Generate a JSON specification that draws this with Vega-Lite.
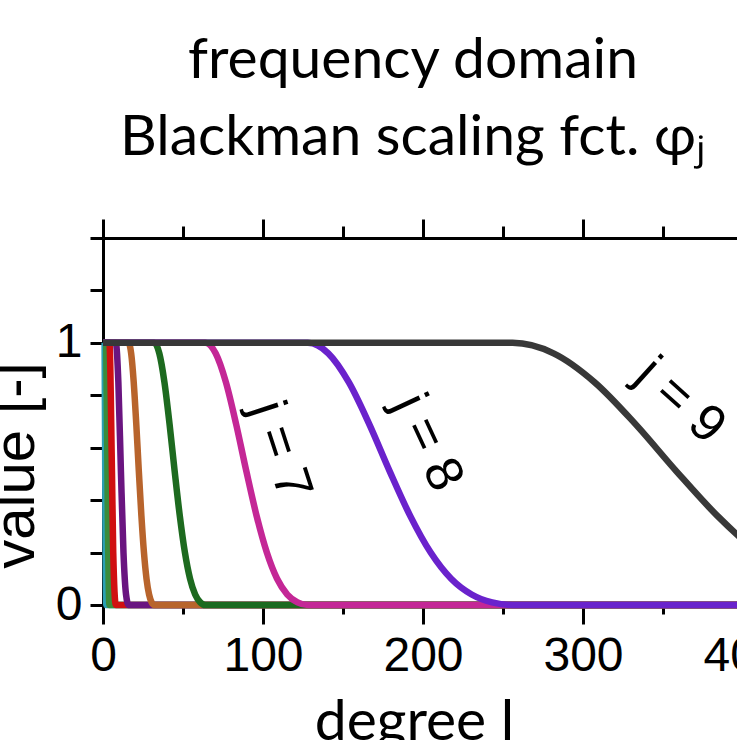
{
  "$schema": "https://vega.github.io/schema/vega-lite/v6.json",
  "width": 800,
  "height": 367,
  "autosize": {"type": "none"},
  "padding": {"left": 103, "top": 238, "right": -166, "bottom": 135},
  "background": "white",
  "config": {
    "view": {"stroke": null},
    "axis": {
      "domainColor": "black",
      "domainWidth": 3,
      "tickColor": "black",
      "tickWidth": 3,
      "labelFont": "Liberation Sans",
      "labelFontSize": 48,
      "labelColor": "black",
      "labelOverlap": false,
      "labelFlush": false,
      "labelBound": false,
      "grid": false,
      "titleColor": "black",
      "titleFontWeight": "normal"
    }
  },
  "title": {
    "text": ["frequency domain", "Blackman scaling fct. φⱼ"],
    "font": "Lato",
    "fontSize": 57,
    "fontWeight": "normal",
    "color": "black",
    "anchor": "middle",
    "frame": "group",
    "dx": -90,
    "offset": -10,
    "lineHeight": 77,
    "baseline": "bottom"
  },
  "resolve": {"axis": {"x": "independent", "y": "independent"}},
  "layer": [
    {
      "data": {
        "values": [
          {"j": "1", "l": 0, "v": 1}, {"j": "1", "l": 1, "v": 1}, {"j": "1", "l": 1.5, "v": 0.34}, {"j": "1", "l": 2, "v": 0}, {"j": "1", "l": 500, "v": 0},
          {"j": "2", "l": 0, "v": 1}, {"j": "2", "l": 2, "v": 1}, {"j": "2", "l": 3, "v": 0.34}, {"j": "2", "l": 4, "v": 0}, {"j": "2", "l": 500, "v": 0},
          {"j": "3", "l": 0, "v": 1}, {"j": "3", "l": 4, "v": 1}, {"j": "3", "l": 5.6, "v": 0.51}, {"j": "3", "l": 6.4, "v": 0.2}, {"j": "3", "l": 8, "v": 0}, {"j": "3", "l": 500, "v": 0},
          {"j": "4", "l": 0, "v": 1}, {"j": "4", "l": 8, "v": 1}, {"j": "4", "l": 9.6, "v": 0.85}, {"j": "4", "l": 11.2, "v": 0.51}, {"j": "4", "l": 12.8, "v": 0.2}, {"j": "4", "l": 14.4, "v": 0.04}, {"j": "4", "l": 16, "v": 0}, {"j": "4", "l": 500, "v": 0},
          {"j": "5", "l": 0, "v": 1}, {"j": "5", "l": 16, "v": 1}, {"j": "5", "l": 17.6, "v": 0.96}, {"j": "5", "l": 19.2, "v": 0.85}, {"j": "5", "l": 20.8, "v": 0.69}, {"j": "5", "l": 22.4, "v": 0.51}, {"j": "5", "l": 24, "v": 0.34}, {"j": "5", "l": 25.6, "v": 0.2}, {"j": "5", "l": 27.2, "v": 0.1}, {"j": "5", "l": 28.8, "v": 0.04}, {"j": "5", "l": 30.4, "v": 0.01}, {"j": "5", "l": 32, "v": 0}, {"j": "5", "l": 500, "v": 0},
          {"j": "6", "l": 0, "v": 1}, {"j": "6", "l": 32, "v": 1}, {"j": "6", "l": 35.2, "v": 0.96}, {"j": "6", "l": 38.4, "v": 0.85}, {"j": "6", "l": 41.6, "v": 0.69}, {"j": "6", "l": 44.8, "v": 0.51}, {"j": "6", "l": 48, "v": 0.34}, {"j": "6", "l": 51.2, "v": 0.2}, {"j": "6", "l": 54.4, "v": 0.1}, {"j": "6", "l": 57.6, "v": 0.04}, {"j": "6", "l": 60.8, "v": 0.01}, {"j": "6", "l": 64, "v": 0}, {"j": "6", "l": 500, "v": 0},
          {"j": "7", "l": 0, "v": 1}, {"j": "7", "l": 64, "v": 1}, {"j": "7", "l": 70.4, "v": 0.96}, {"j": "7", "l": 76.8, "v": 0.85}, {"j": "7", "l": 83.2, "v": 0.69}, {"j": "7", "l": 89.6, "v": 0.51}, {"j": "7", "l": 96, "v": 0.34}, {"j": "7", "l": 102.4, "v": 0.2}, {"j": "7", "l": 108.8, "v": 0.1}, {"j": "7", "l": 115.2, "v": 0.04}, {"j": "7", "l": 121.6, "v": 0.01}, {"j": "7", "l": 128, "v": 0}, {"j": "7", "l": 500, "v": 0},
          {"j": "8", "l": 0, "v": 1}, {"j": "8", "l": 128, "v": 1}, {"j": "8", "l": 140.8, "v": 0.96}, {"j": "8", "l": 153.6, "v": 0.85}, {"j": "8", "l": 166.4, "v": 0.69}, {"j": "8", "l": 179.2, "v": 0.51}, {"j": "8", "l": 192, "v": 0.34}, {"j": "8", "l": 204.8, "v": 0.2}, {"j": "8", "l": 217.6, "v": 0.1}, {"j": "8", "l": 230.4, "v": 0.04}, {"j": "8", "l": 243.2, "v": 0.01}, {"j": "8", "l": 256, "v": 0}, {"j": "8", "l": 500, "v": 0},
          {"j": "9", "l": 0, "v": 1}, {"j": "9", "l": 256, "v": 1}, {"j": "9", "l": 281.6, "v": 0.96}, {"j": "9", "l": 307.2, "v": 0.85}, {"j": "9", "l": 332.8, "v": 0.69}, {"j": "9", "l": 358.4, "v": 0.51}, {"j": "9", "l": 384, "v": 0.34}, {"j": "9", "l": 409.6, "v": 0.2}, {"j": "9", "l": 435.2, "v": 0.1}, {"j": "9", "l": 460.8, "v": 0.04}, {"j": "9", "l": 486.4, "v": 0.01}, {"j": "9", "l": 512, "v": 0}
        ]
      },
      "mark": {"type": "line", "strokeWidth": 6.5, "interpolate": "monotone"},
      "encoding": {
        "x": {
          "field": "l", "type": "quantitative",
          "scale": {"domain": [0, 500], "nice": false, "zero": false},
          "axis": {
            "orient": "bottom",
            "values": [0, 100, 200, 300, 400, 500],
            "tickSize": 19,
            "labelPadding": 8,
            "title": "degree l",
            "titleFont": "Lato",
            "titleFontSize": 57,
            "titleX": 311,
            "titleY": 134,
            "titleAlign": "center",
            "titleBaseline": "alphabetic"
          }
        },
        "y": {
          "field": "v", "type": "quantitative",
          "scale": {"domain": [0, 1.4], "nice": false},
          "axis": {
            "orient": "left",
            "values": [0, 0.2, 0.4, 0.6, 0.8, 1, 1.2, 1.4],
            "tickSize": 13,
            "labelPadding": 8,
            "labelExpr": "datum.value == 0 ? '0' : (datum.value == 1 ? '1' : '')",
            "title": "value [-]",
            "titleFont": "Liberation Sans",
            "titleFontSize": 58,
            "titleAngle": 270,
            "titleX": -70,
            "titleY": 227,
            "titleAlign": "center",
            "titleBaseline": "alphabetic"
          }
        },
        "color": {
          "field": "j", "type": "nominal",
          "scale": {
            "domain": ["1", "2", "3", "4", "5", "6", "7", "8", "9"],
            "range": ["#2aa0b4", "#3a8c3c", "#d01010", "#6a1580", "#b8642c", "#1d6a1f", "#c42796", "#6a22cc", "#383838"]
          },
          "legend": null
        }
      }
    },
    {
      "data": {"values": [{"label": "j = 7", "l": 111, "v": 0.59}]},
      "mark": {"type": "text", "angle": 72, "font": "Liberation Sans", "fontSize": 52, "color": "black", "align": "center", "baseline": "middle"},
      "encoding": {
        "x": {
          "field": "l", "type": "quantitative",
          "scale": {"domain": [0, 500], "nice": false, "zero": false},
          "axis": {"orient": "top", "values": [0, 100, 200, 300, 400, 500], "tickSize": 19, "labels": false, "title": null}
        },
        "y": {"field": "v", "type": "quantitative", "scale": {"domain": [0, 1.4], "nice": false}, "axis": null},
        "text": {"field": "label"}
      }
    },
    {
      "data": {"values": [{"label": "j = 8", "l": 203, "v": 0.62}]},
      "mark": {"type": "text", "angle": 65, "font": "Liberation Sans", "fontSize": 52, "color": "black", "align": "center", "baseline": "middle"},
      "encoding": {
        "x": {
          "field": "l", "type": "quantitative",
          "scale": {"domain": [0, 500], "nice": false, "zero": false},
          "axis": {"orient": "bottom", "values": [50, 150, 250, 350, 450], "tickSize": 9, "labels": false, "domain": false, "title": null}
        },
        "y": {"field": "v", "type": "quantitative", "scale": {"domain": [0, 1.4], "nice": false}, "axis": null},
        "text": {"field": "label"}
      }
    },
    {
      "data": {"values": [{"label": "j = 9", "l": 361, "v": 0.78}]},
      "mark": {"type": "text", "angle": 42, "font": "Liberation Sans", "fontSize": 52, "color": "black", "align": "center", "baseline": "middle"},
      "encoding": {
        "x": {
          "field": "l", "type": "quantitative",
          "scale": {"domain": [0, 500], "nice": false, "zero": false},
          "axis": {"orient": "top", "values": [50, 150, 250, 350, 450], "tickSize": 12, "labels": false, "domain": false, "title": null}
        },
        "y": {"field": "v", "type": "quantitative", "scale": {"domain": [0, 1.4], "nice": false}, "axis": null},
        "text": {"field": "label"}
      }
    }
  ]
}
